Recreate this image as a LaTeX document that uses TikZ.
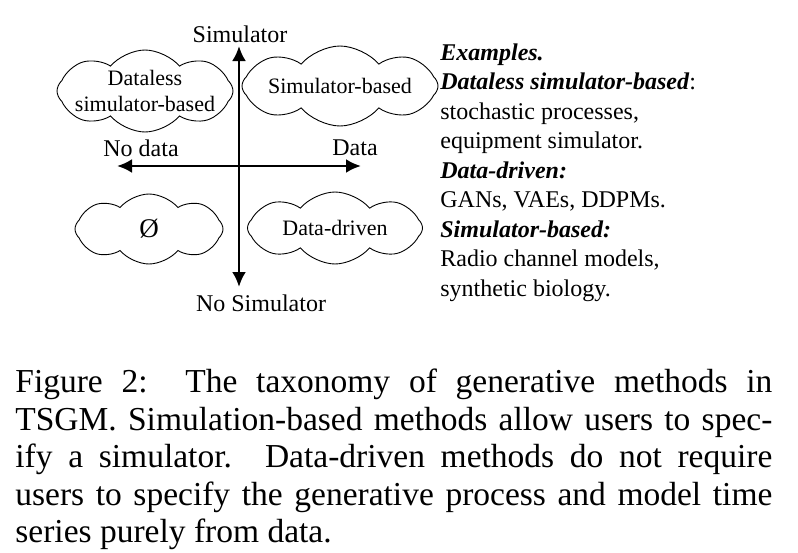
\documentclass[tikz,border=0pt]{standalone}
\usepackage{fontspec}
\setmainfont{Liberation Serif}
\usetikzlibrary{arrows.meta,shapes.symbols}
\tikzset{
  blob/.style={cloud, draw, line width=0.9pt, cloud puffs=8, cloud puff arc=100,
    cloud ignores aspect, inner sep=0pt, align=center, font=\fontsize{22}{26}\selectfont},
  axislabel/.style={inner sep=0pt, font=\fontsize{24}{29}\selectfont}
}
\begin{document}
\begin{tikzpicture}[x=1pt,y=-1pt,>={Latex[length=15pt,width=14pt]},thick]
\useasboundingbox (0,0) rectangle (798,552);
% axes
\coordinate (up) at (239,46);
\coordinate (down) at (239,287);
\coordinate (left) at (117,166);
\coordinate (right) at (361,166);
\draw[<->,line width=2.8pt] (up) -- (down);
\draw[<->,line width=2.8pt] (left) -- (right);
\node[axislabel] (sim) at (240,34) {Simulator};
\node[axislabel] (nosim) at (261,303) {No Simulator};
\node[axislabel] (nodata) at (141,148) {No data};
\node[axislabel] (data) at (355,148) {Data};
% quadrants
\node[blob, inner xsep=-14pt, inner ysep=-4pt, minimum width=176pt, minimum height=82pt] (dataless) at (145,91) {Dataless\\simulator-based};
\node[blob, minimum width=196pt, minimum height=80pt] (simbased) at (340,86) {Simulator-based};
\node[blob, minimum width=148pt, minimum height=70pt] (empty) at (149,229) {\fontsize{27}{30}\selectfont Ø};
\node[blob, minimum width=175pt, minimum height=72pt] (datadriven) at (335,228) {Data-driven};
% examples
\node[anchor=north west, align=left, inner sep=0pt, font=\fontsize{24}{29.5}\selectfont] (examples) at (440,43) {%
\textbf{\textit{Examples.}}\\
\textbf{\textit{Dataless simulator-based}}:\\
stochastic processes,\\
equipment simulator.\\
\textbf{\textit{Data-driven:}}\\
GANs, VAEs, DDPMs.\\
\textbf{\textit{Simulator-based:}}\\
Radio channel models,\\
synthetic biology.};
% caption
\node[anchor=north west, text width=757pt, align=justify, inner sep=0pt, font=\fontsize{33.5}{37.5}\selectfont] (caption) at (15,369) {%
Figure 2:\ \ The taxonomy of generative methods in\linebreak
TSGM. Simulation-based methods allow users to spec-\linebreak
ify a simulator.  Data-driven methods do not require\linebreak
users to specify the generative process and model time\linebreak
series purely from data.};
\end{tikzpicture}
\end{document}
